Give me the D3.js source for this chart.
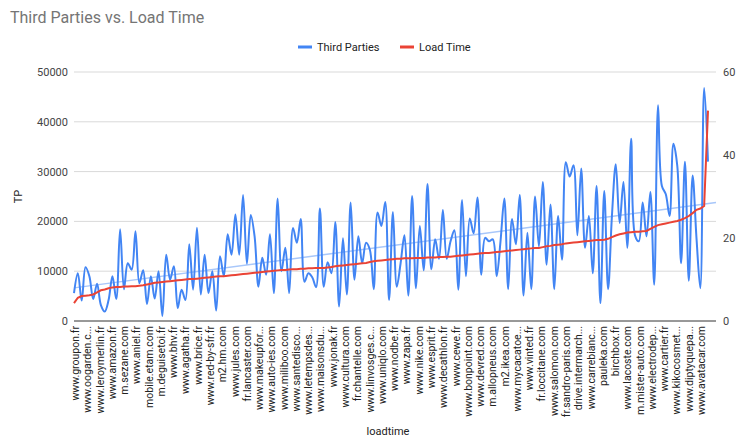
<!DOCTYPE html>
<html>
<head>
<meta charset="utf-8">
<script src="https://cdn.jsdelivr.net/npm/d3@7"></script>
<style>
  body { margin: 0; background: #fff; }
  text { font-family: Roboto, Arial, sans-serif; }
</style>
</head>
<body>
<script>
// third party requests per page, ordered by load time
const thirdParties = [
  5600,9600,4100,10800,9000,4400,7500,3200,1900,4200,
  9000,4400,18400,6400,11600,10300,18000,7600,10200,3400,
  9000,4500,10000,1000,13300,8300,11000,2600,6300,4200,
  15400,6300,18700,5300,13300,5600,10000,2100,13000,9000,
  17400,13300,21400,13300,25300,11500,21300,17000,6900,12700,
  9300,17400,5600,24600,10000,14700,5600,18700,15700,20500,
  7900,9600,8800,6800,22600,6900,11800,9600,19900,2900,
  16600,5300,23800,8300,17000,11600,15700,14300,6400,21800,
  19100,23900,4200,21900,6900,11600,17200,
  5100,25100,6600,19100,10200,27500,10400,16400,12500,22300,
  12500,16000,18200,6300,24300,9000,20600,17600,24800,9300,
  16700,16000,16400,9000,16000,24600,6400,20500,15400,25300,
  5100,17700,6400,25000,15000,27900,11300,23400,6400,21100,
  12300,31900,29000,31300,17200,30600,14700,21100,9600,27100,
  3600,26100,6400,21100,31500,19700,27900,14700,36600,17200,
  16000,23800,17000,25900,7300,43300,27100,25500,21100,35600,
  31200,11600,32000,8100,29200,16700,6600,46800,32000
];

const loadTime = [
  4.3,5.6,6.0,6.1,6.2,6.4,6.9,7.4,7.6,7.9,
  8.1,8.2,8.2,8.3,8.3,8.4,8.4,8.5,8.6,8.8,
  9.0,9.2,9.3,9.4,9.5,9.6,9.7,9.8,9.9,10.0,
  10.1,10.1,10.2,10.3,10.4,10.5,10.6,10.7,10.8,10.8,
  10.9,11.0,11.1,11.2,11.3,11.4,11.5,11.6,11.7,11.8,
  11.9,12.0,12.1,12.2,12.3,12.3,12.4,12.5,12.5,12.6,
  12.6,12.7,12.7,12.8,12.8,12.8,12.9,13.0,13.2,13.3,
  13.4,13.5,13.6,13.7,13.8,13.9,14.0,14.2,14.4,14.5,
  14.6,14.7,14.8,14.9,15.0,15.0,15.1,15.1,15.1,15.2,
  15.2,15.2,15.3,15.3,15.3,15.4,15.4,15.5,15.5,15.6,
  15.7,15.8,15.9,16.0,16.1,16.2,16.3,16.4,16.4,16.5,
  16.6,16.7,16.8,16.9,17.0,17.1,17.2,17.3,17.4,17.5,
  17.6,17.6,17.8,18.0,18.1,18.3,18.4,18.5,18.7,18.8,
  18.9,19.0,19.1,19.2,19.3,19.4,19.5,19.5,19.6,19.8,
  20.2,20.6,20.9,21.1,21.3,21.4,21.5,21.5,21.6,21.7,
  22.2,22.7,23.1,23.3,23.5,23.7,23.9,24.1,24.4,24.8,
  25.3,26.0,26.8,27.1,27.7,50.7
];

// only some of the sites get a label on the axis
const siteLabels = [
  "www.groupon.fr","www.oogarden.c...","www.leroymerlin.fr","www.amazon.fr","m.sezane.com",
  "www.aniel.fr","mobile.etam.com","m.deguisetoi.fr","www.bhv.fr","www.agatha.fr",
  "www.brice.fr","www.red-by-sfr.fr","m2.hm.com","www.jules.com","fr.lancaster.com",
  "www.makeupfor...","www.auto-ies.com","www.miliboo.com","www.santedisco...","www.letempsdes...",
  "www.maisonsdu...","www.jonak.fr","www.cultura.com","fr.chantelle.com","www.linvosges.c...",
  "www.uniqlo.com","www.nodbe.fr","www.zapa.fr","www.nike.com","www.esprit.fr",
  "www.decathlon.fr","www.cewe.fr","www.bonpoint.com","www.devred.com","m.allopneus.com",
  "m2.ikea.com","www.mycacatoe...","www.vinted.fr","fr.loccitane.com","www.salomon.com",
  "fr.sandro-paris.com","drive.intermarch...","www.carrebianc...","pauleka.com","birchbox.fr",
  "www.lacoste.com","m.mister-auto.com","www.electrodep...","www.cartier.fr","www.kikocosmet...",
  "www.diptyquepa...","www.avatacar.com"
];

const leftTicks = [0, 10000, 20000, 30000, 40000, 50000];
const rightTicks = [0, 20, 40, 60];

const width = 750, height = 442;
const margin = { top: 72, right: 34, bottom: 121, left: 74 };
const innerW = width - margin.left - margin.right;
const innerH = height - margin.top - margin.bottom;

const svg = d3.select("body").append("svg")
  .attr("width", width)
  .attr("height", height);

svg.append("text")
  .attr("x", 10).attr("y", 23)
  .attr("fill", "#757575")
  .style("font-size", "16px")
  .text("Third Parties vs. Load Time");

const g = svg.append("g")
  .attr("transform", `translate(${margin.left}, ${margin.top})`);

const n = thirdParties.length;
const x = d3.scaleLinear().domain([0, n - 1]).range([0, innerW - 8]);
const y = d3.scaleLinear().domain([0, 50000]).range([innerH, 0]);
const y2 = d3.scaleLinear().domain([0, 60]).range([innerH, 0]);

// gridlines
g.selectAll(".grid")
  .data(leftTicks.slice(1))
  .enter().append("line")
  .attr("x1", 0).attr("x2", innerW)
  .attr("y1", d => y(d)).attr("y2", d => y(d))
  .attr("stroke", "#d9d9d9");

g.selectAll(".ltick")
  .data(leftTicks)
  .enter().append("text")
  .attr("x", -6).attr("y", d => y(d) + 4)
  .attr("text-anchor", "end")
  .attr("fill", "#444")
  .style("font-size", "11px")
  .text(d => d);

g.selectAll(".rtick")
  .data(rightTicks)
  .enter().append("text")
  .attr("x", innerW + 7).attr("y", d => y2(d) + 4)
  .attr("fill", "#444")
  .style("font-size", "11px")
  .text(d => d);

// trendline from least squares fit
const idx = d3.range(n);
const mx = d3.mean(idx), my = d3.mean(thirdParties);
const slope = d3.sum(idx, i => (i - mx) * (thirdParties[i] - my)) / d3.sum(idx, i => (i - mx) ** 2);
const icpt = my - slope * mx;
g.append("line")
  .attr("x1", x(0)).attr("y1", y(icpt))
  .attr("x2", innerW).attr("y2", y(icpt + slope * x.invert(innerW)))
  .attr("stroke", "#a8c7fa")
  .attr("stroke-width", 1.5);

g.append("path")
  .datum(thirdParties)
  .attr("fill", "none")
  .attr("stroke", "#4285f4")
  .attr("stroke-width", 2)
  .attr("d", d3.line().x((d, i) => x(i)).y(d => y(d)).curve(d3.curveCatmullRom));

g.append("path")
  .datum(loadTime)
  .attr("fill", "none")
  .attr("stroke", "#ea4335")
  .attr("stroke-width", 2)
  .attr("d", d3.line().x((d, i) => x(i)).y(d => y2(d)));

// baseline
g.append("line")
  .attr("x1", 0).attr("x2", innerW)
  .attr("y1", innerH).attr("y2", innerH)
  .attr("stroke", "#333");

// x labels, spread evenly over the points
const lx = d3.scaleLinear().domain([0, siteLabels.length - 1]).range([x(0) + 1, x(n - 1) - 7]);
g.selectAll(".xl")
  .data(siteLabels)
  .enter().append("text")
  .attr("transform", (d, i) => `translate(${lx(i) + 4}, ${innerH + 5}) rotate(-90)`)
  .attr("text-anchor", "end")
  .attr("fill", "#222")
  .style("font-size", "10.5px")
  .text(d => d);

svg.append("text")
  .attr("x", margin.left + innerW / 2 - 7).attr("y", 435)
  .attr("text-anchor", "middle")
  .attr("fill", "#222")
  .style("font-size", "11px")
  .text("loadtime");

svg.append("text")
  .attr("transform", `translate(22, ${margin.top + innerH / 2}) rotate(-90)`)
  .attr("text-anchor", "middle")
  .attr("fill", "#222")
  .style("font-size", "11px")
  .text("TP");

// legend
const legend = [
  { name: "Third Parties", color: "#4285f4", x: 298 },
  { name: "Load Time", color: "#ea4335", x: 400 }
];
const lg = svg.selectAll(".lg").data(legend).enter().append("g")
  .attr("transform", d => `translate(${d.x}, 47)`);
lg.append("line")
  .attr("x1", 0).attr("x2", 14)
  .attr("stroke", d => d.color).attr("stroke-width", 3);
lg.append("text")
  .attr("x", 19).attr("y", 4)
  .attr("fill", "#222")
  .style("font-size", "11px")
  .text(d => d.name);
</script>
</body>
</html>
